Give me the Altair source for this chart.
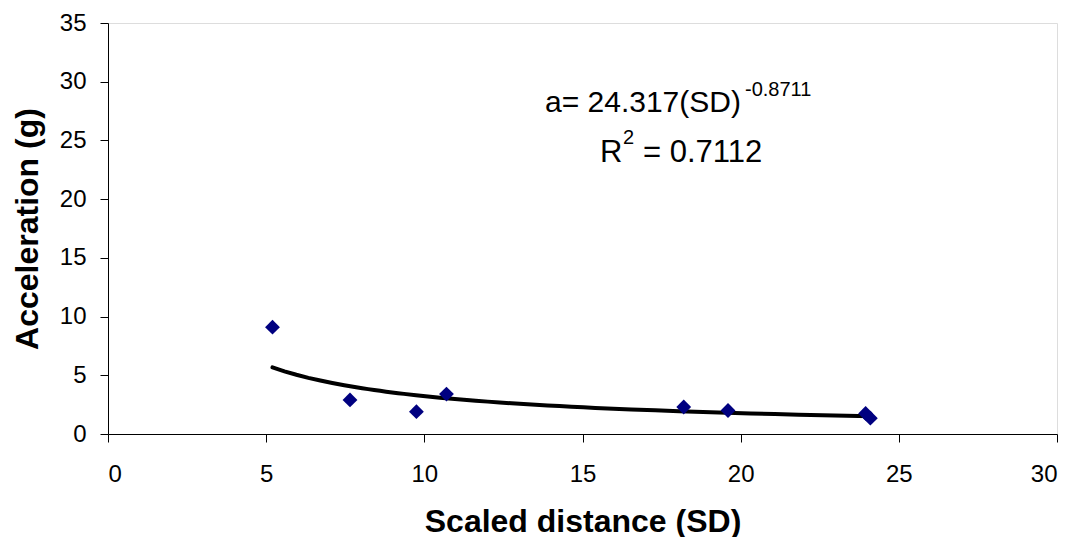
import altair as alt
import pandas as pd

# Data
sd = [5.2, 7.65, 9.75, 10.7, 18.2, 19.6, 23.95, 24.1]
accel = [9.1, 2.9, 1.9, 3.4, 2.3, 2.0, 1.75, 1.35]

x_ticks = [0, 5, 10, 15, 20, 25, 30]
y_ticks = [0, 5, 10, 15, 20, 25, 30, 35]

eq_main = "a= 24.317(SD)"
eq_exp = "-0.8711"
r2_R = "R"
r2_sup = "2"
r2_rest = "= 0.7112"

FONT = "Liberation Sans"

df = pd.DataFrame({"SD": sd, "Acc": accel})

x_enc = alt.X(
    "SD:Q",
    scale=alt.Scale(domain=[0, 30], nice=False, zero=True),
    axis=alt.Axis(
        values=x_ticks, title="Scaled distance (SD)", grid=False,
        domainColor="black", tickColor="black", tickSize=8,
        labelFont=FONT, labelFontSize=24, labelColor="black", labelPadding=20,
        titleFont=FONT, titleFontSize=32, titleFontWeight="bold", titleColor="black",
        titleBaseline="alphabetic", titleY=97,
    ),
)
y_enc = alt.Y(
    "Acc:Q",
    scale=alt.Scale(domain=[0, 35], nice=False),
    axis=alt.Axis(
        values=y_ticks, title="Acceleration (g)", grid=False,
        domainColor="black", tickColor="black", tickSize=8,
        labelFont=FONT, labelFontSize=24, labelColor="black", labelPadding=14,
        titleFont=FONT, titleFontSize=32, titleFontWeight="bold", titleColor="black",
        titleAngle=270, titleBaseline="alphabetic", titleX=-71,
    ),
)

points = alt.Chart(df).mark_point(
    shape="diamond", filled=True, size=220, color="#000080", opacity=1
).encode(x=x_enc, y=y_enc)

trend = alt.Chart(df).transform_regression(
    "SD", "Acc", method="pow"
).mark_line(color="black", strokeWidth=4, strokeCap="round").encode(
    x="SD:Q", y="Acc:Q"
)

def label(txt, px, py, size):
    return alt.Chart(pd.DataFrame({"t": [txt]})).mark_text(
        align="left", baseline="alphabetic", font=FONT, fontSize=size, color="black"
    ).encode(text="t:N", x=alt.value(px), y=alt.value(py))

annot = (
    label(eq_main, 437, 89, 30)
    + label(eq_exp, 637, 73, 20)
    + label(r2_R, 492, 139, 31)
    + label(r2_sup, 515, 121, 20)
    + label(r2_rest, 535, 139, 31)
)

chart = alt.layer(trend, points, annot).properties(
    width=949, height=411,
    padding={"left": 100, "top": 15, "right": 14, "bottom": 103},
    autosize=alt.AutoSizeParams(type="none"),
).configure_view(stroke=None).configure(background="white")

chart.save("out.html", embed_options={"renderer": "svg", "actions": False})
